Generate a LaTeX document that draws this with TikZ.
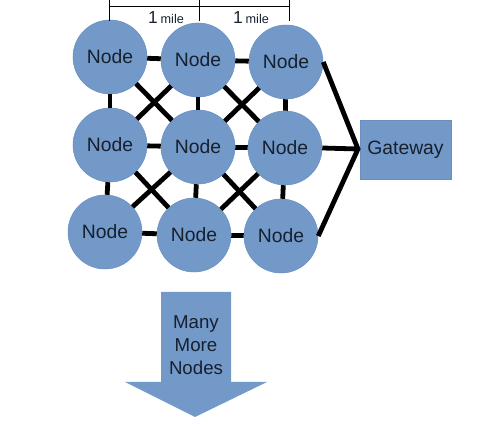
\documentclass[tikz,border=0pt]{standalone}
\usepackage{fontspec}
\setmainfont{Liberation Sans}
\definecolor{nodefill}{HTML}{7399C9}
\definecolor{nodeedge}{HTML}{6A8EC0}
\definecolor{txt}{HTML}{16202E}
\begin{document}
\begin{tikzpicture}[x=0.75pt,y=-0.75pt,
  meshnode/.style={circle,fill=nodefill,draw=nodeedge,line width=0.4pt,minimum size=55.5pt,inner sep=0pt,
    text=txt,font=\fontsize{14.5}{16}\selectfont},
  gwbox/.style={rectangle,fill=nodefill,draw=nodeedge,line width=0.4pt,minimum width=68.25pt,minimum height=44.25pt,
    inner sep=0pt,text=txt,font=\fontsize{14.5}{16}\selectfont},
  link/.style={line width=3.6pt,black},
  scalebar/.style={line width=0.75pt,black},
  milelabel/.style={inner sep=0pt,text=txt}]
\useasboundingbox (0,0) rectangle (483,424);
% nodes
\node[meshnode] (A1) at (110,57) {Node};
\node[meshnode] (A2) at (198,60) {Node};
\node[meshnode] (A3) at (286,62) {Node};
\node[meshnode] (B1) at (110,145) {Node};
\node[meshnode] (B2) at (198,147) {Node};
\node[meshnode] (B3) at (285,148) {Node};
\node[meshnode] (C1) at (105,232) {Node};
\node[meshnode] (C2) at (194,235) {Node};
\node[meshnode] (C3) at (281,236) {Node};
\node[gwbox] (GW) at (405.5,149.5) {Gateway};
\coordinate (J) at (358,149);
% links
\foreach \a/\b in {A1/A2,A2/A3,B1/B2,B2/B3,C1/C2,C2/C3,
                   A1/B1,A2/B2,A3/B3,B1/C1,B2/C2,B3/C3,
                   A1/B2,A2/B1,A2/B3,A3/B2,B1/C2,B2/C1,B2/C3,B3/C2}
  \draw[link] (\a) -- (\b);
\draw[link,line join=miter] (A3.east) -- (J) -- (C3.east);
\draw[link] (B3.east) -- (J);
% scale bar
\coordinate (S1) at (109,7);
\coordinate (S2) at (199,7);
\coordinate (S3) at (289,7);
\draw[scalebar] (S1) -- (S3);
\foreach \s in {S1,S2,S3} \draw[scalebar] ([yshift=5.25pt]\s) -- ([yshift=-10.5pt]\s);
\node[milelabel,anchor=base] (L1) at (166,24) {\fontsize{13}{14}\selectfont 1\,\fontsize{9.5}{11}\selectfont mile};
\node[milelabel,anchor=base] (L2) at (251,24) {\fontsize{13}{14}\selectfont 1\,\fontsize{9.5}{11}\selectfont mile};
% big arrow
\fill[nodefill] (161,292) -- (231,292) -- (231,382) -- (267,382) -- (195,417) -- (125,382) -- (161,382) -- cycle;
\node[align=center,text=txt,font=\fontsize{14}{17.25}\selectfont,inner sep=0pt] (MM) at (196,345) {Many\\More\\Nodes};
\end{tikzpicture}
\end{document}
